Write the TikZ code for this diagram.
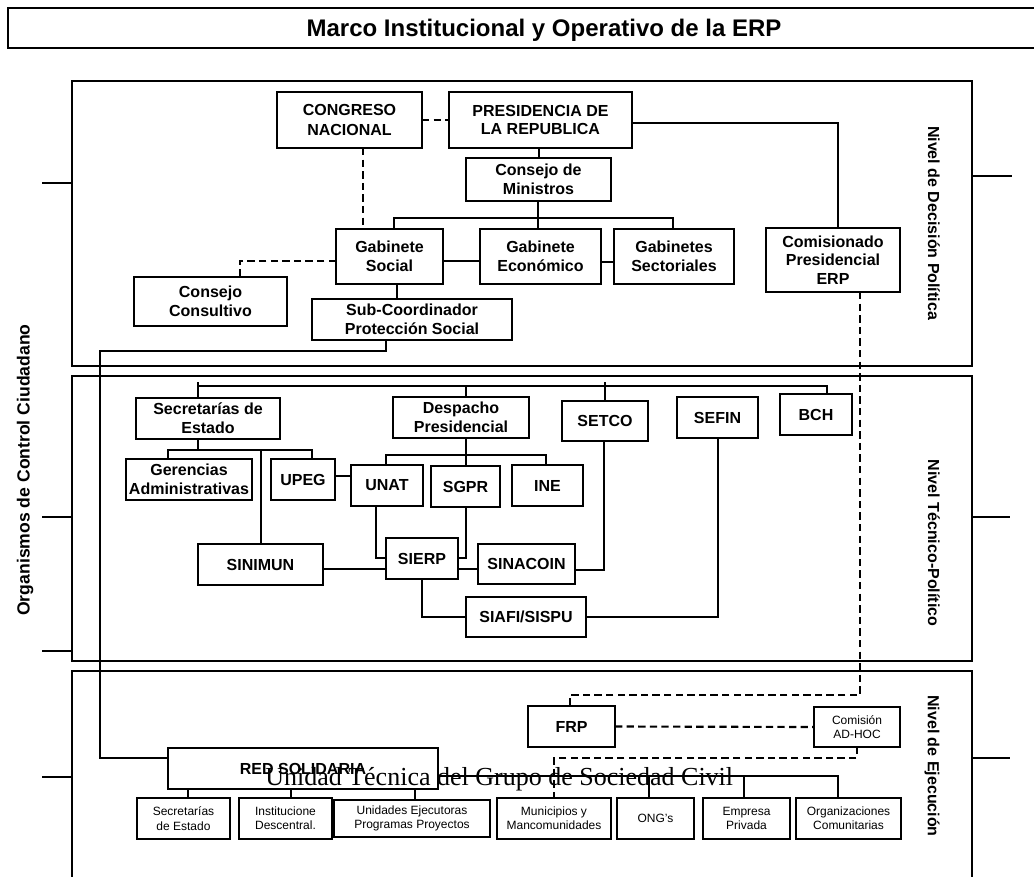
\documentclass[tikz,border=0pt]{standalone}
\usepackage{fontspec}
\setmainfont{Liberation Sans}
\newfontfamily\tnrfont{Liberation Serif}
\newcommand\mybox[7][]{\node[bx,#1,minimum width={(#5-#3)*0.75pt},minimum height={(#6-#4)*0.75pt}] (#2) at ({(#3+#5)/2},{(#4+#6)/2}) {#7};}
\begin{document}
\begin{tikzpicture}[x=0.75pt,y=-0.75pt,
  bx/.style={draw,line width=0.9pt,fill=white,inner sep=0pt,outer sep=0pt,align=center,font=\fontsize{12}{14}\selectfont\bfseries},
  sm/.style={font=\fontsize{9}{10.7}\selectfont},
  sec/.style={draw,line width=1.1pt},
  ln/.style={line width=0.9pt},
  dsh/.style={line width=1.6pt,dash pattern=on 5.5pt off 3.2pt},
  thk/.style={line width=1.9pt},
  side/.style={font=\fontsize{12}{14}\selectfont\bfseries}]
\useasboundingbox (0,0) rectangle (1034,877);
% title
\node[draw,line width=1pt,inner sep=0pt,minimum width={1032*0.75pt},minimum height={40*0.75pt}] (titlebox) at (524,28) {};
\node[font=\fontsize{18}{20}\selectfont\bfseries] (title) at (544,30) {Marco Institucional y Operativo de la ERP};
% sections
\node[sec,inner sep=0pt,minimum width={900*0.75pt},minimum height={285*0.75pt}] (sec1) at (522,223.5) {};
\node[sec,inner sep=0pt,minimum width={900*0.75pt},minimum height={285*0.75pt}] (sec2) at (522,518.5) {};
\node[sec,inner sep=0pt,minimum width={900*0.75pt},minimum height={214*0.75pt}] (sec3) at (522,778) {};
% ticks
\coordinate (tl1) at (42,183); \coordinate (tl2) at (42,517); \coordinate (tl3) at (42,651); \coordinate (tl4) at (42,777);
\coordinate (tr1) at (1012,176); \coordinate (tr2) at (1010,517); \coordinate (tr3) at (1010,758);
\draw[ln] (tl1) -- (sec1.west |- tl1);
\draw[ln] (tl2) -- (sec2.west |- tl2);
\draw[line width=1.6pt] (tl3) -- (sec2.west |- tl3);
\draw[ln] (tl4) -- (sec3.west |- tl4);
\draw[ln] (sec1.east |- tr1) -- (tr1);
\draw[ln] (sec2.east |- tr2) -- (tr2);
\draw[ln] (sec3.east |- tr3) -- (tr3);
% side labels
\node[side,rotate=-90] (lvl1) at (934,223) {Nivel de Decisión Política};
\node[side,rotate=-90] (lvl2) at (934,543) {Nivel Técnico-Político};
\node[side,rotate=-90] (lvl3) at (932,766) {Nivel de Ejecución};
\node[side,rotate=90,font=\fontsize{13.2}{15}\selectfont\bfseries] (org) at (25,470) {Organismos de Control Ciudadano};
% top level boxes
\mybox{cong}{277}{92}{422}{148}{CONGRESO\\[1.5pt]NACIONAL}
\mybox{pres}{449}{92}{632}{148}{PRESIDENCIA DE\\LA REPUBLICA}
\mybox{cmin}{466}{158}{611}{201}{Consejo de\\Ministros}
\mybox{gsoc}{336}{229}{443}{284}{Gabinete\\Social}
\mybox{geco}{480}{229}{601}{284}{Gabinete\\Económico}
\mybox{gsec}{614}{229}{734}{284}{Gabinetes\\Sectoriales}
\mybox{comi}{766}{228}{900}{292}{Comisionado\\Presidencial\\ERP}
\mybox{ccon}{134}{277}{287}{326}{Consejo\\Consultivo}
\mybox{subc}{312}{299}{512}{340}{Sub-Coordinador\\Protección Social}
% middle level boxes
\mybox{secr}{136}{398}{280}{439}{Secretarías de\\Estado}
\mybox{desp}{393}{397}{529}{438}{Despacho\\Presidencial}
\mybox{setco}{562}{401}{648}{441}{SETCO}
\mybox{sefin}{677}{397}{758}{438}{SEFIN}
\mybox{bch}{780}{394}{852}{435}{BCH}
\mybox{geren}{126}{459}{252}{500}{Gerencias\\Administrativas}
\mybox{upeg}{271}{459}{335}{500}{UPEG}
\mybox{unat}{351}{465}{423}{506}{UNAT}
\mybox{sgpr}{431}{466}{500}{507}{SGPR}
\mybox{ine}{512}{465}{583}{506}{INE}
\mybox{sinimun}{198}{544}{323}{585}{SINIMUN}
\mybox{sierp}{386}{538}{458}{579}{SIERP}
\mybox{sinacoin}{478}{544}{575}{584}{SINACOIN}
\mybox{siafi}{466}{597}{586}{637}{SIAFI/SISPU}
% bottom level boxes
\mybox{frp}{528}{706}{615}{747}{FRP}
\mybox[sm]{adhoc}{814}{707}{900}{747}{Comisión\\AD-HOC}
\mybox{reds}{168}{748}{438}{789}{RED SOLIDARIA}
\mybox[sm]{bs1}{137}{798}{230}{839}{Secretarías\\de Estado}
\mybox[sm]{bs2}{239}{798}{332}{839}{Institucione\\Descentral.}
\mybox[sm]{bs3}{334}{800}{490}{837}{Unidades Ejecutoras\\Programas Proyectos}
\mybox[sm]{bs4}{497}{798}{611}{839}{Municipios y\\Mancomunidades}
\mybox[sm]{bs5}{617}{798}{694}{839}{ONG's}
\mybox[sm]{bs6}{703}{798}{790}{839}{Empresa\\Privada}
\mybox[sm]{bs7}{796}{798}{901}{839}{Organizaciones\\Comunitarias}
% top connectors
\draw[dsh] (cong.east) -- (pres.west);
\draw[ln] (cmin.north -| 539,0) -- (pres.south -| 539,0);
\draw[ln] (cmin.south -| 538,0) -- (geco.north -| 538,0);
\draw[ln] (gsoc.north -| 394,0) -- (394,218) -| (gsec.north -| 673,0);
\draw[ln] (gsoc.east |- 0,261) -- (geco.west |- 0,261);
\draw[ln] (geco.east |- 0,262) -- (gsec.west |- 0,262);
\draw[ln] (pres.east |- 0,123) -| (comi.north -| 838,0);
\draw[dsh] (cong.south -| 363,0) -- (gsoc.north -| 363,0);
\draw[dsh] (gsoc.west |- 0,261) -| (ccon.north -| 240,0);
\draw[ln] (gsoc.south -| 397,0) -- (subc.north -| 397,0);
\draw[thk] (subc.south -| 386,0) |- (100,351) |- (reds.west |- 0,758);
% middle connectors
\draw[ln] (secr.north -| 198,0) -- (198,382);
\draw[ln] (198,386) -| (bch.north -| 827,0);
\draw[ln] (desp.north -| 466,0) -- (466,386);
\draw[ln] (setco.north -| 605,0) -- (605,382);
\draw[ln] (secr.south -| 198,0) -- (198,450);
\draw[ln] (geren.north -| 168,0) -- (168,450) -| (upeg.north -| 312,0);
\draw[ln] (sinimun.north -| 261,0) -- (261,450);
\draw[ln] (upeg.east |- 0,476) -- (unat.west |- 0,476);
\draw[ln] (desp.south -| 466,0) -- (sgpr.north -| 466,0);
\draw[ln] (unat.north -| 386,0) -- (386,455) -| (ine.north -| 546,0);
\draw[ln] (unat.south -| 376,0) |- (sierp.west |- 0,558);
\draw[ln] (sgpr.south -| 466,0) |- (sierp.east |- 0,558);
\draw[ln] (sinimun.east |- 0,569) -- (sierp.west |- 0,569);
\draw[ln] (sierp.east |- 0,569) -- (sinacoin.west |- 0,569);
\draw[ln] (sinacoin.east |- 0,570) -| (setco.south -| 604,0);
\draw[ln] (sierp.south -| 422,0) |- (siafi.west |- 0,617);
\draw[ln] (siafi.east |- 0,617) -| (sefin.south -| 718,0);
% dashed long link
\draw[dsh] (comi.south -| 860,0) |- (570,695) -- (frp.north -| 570,0);
% bottom connectors
\draw[dsh] (frp.east) -- (adhoc.west);
\draw[dsh] (adhoc.south -| 857,0) |- (554,758) -- (bs4.north -| 554,0);
\draw[ln] (reds.south -| 188,0) -- (bs1.north -| 188,0);
\draw[ln] (reds.south -| 291,0) -- (bs2.north -| 291,0);
\draw[ln] (reds.south -| 415,0) -- (bs3.north -| 415,0);
\draw[ln] (reds.east |- 0,776) -| (bs7.north -| 838,0);
\draw[ln] (bs5.north -| 649,0) -- (649,776);
\draw[ln] (bs6.north -| 744,0) -- (744,776);
% overlay text
\node[anchor=base west,inner sep=0pt,font=\tnrfont\fontsize{19.5}{22}\selectfont] (utgsc) at (265,785) {Unidad Técnica del Grupo de Sociedad Civil};
\end{tikzpicture}
\end{document}
